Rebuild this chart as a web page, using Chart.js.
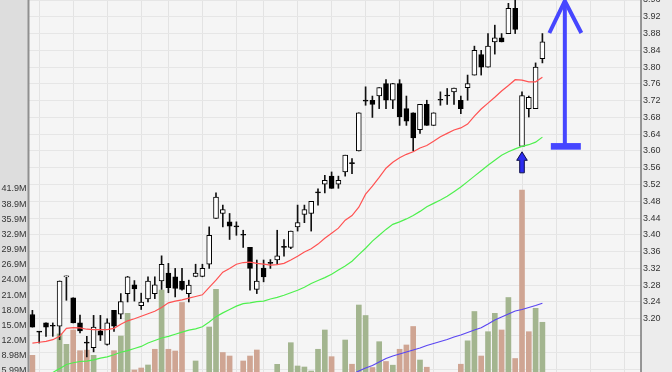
<!DOCTYPE html>
<html><head><meta charset="utf-8">
<script src="https://cdn.jsdelivr.net/npm/chart.js@4.4.1/dist/chart.umd.min.js"></script>
<style>html,body{margin:0;padding:0;background:#fff;overflow:hidden}canvas{display:block}</style>
</head><body>
<canvas id="c" width="672" height="372"></canvas>
<script>
// ---- data ----
const slotCount = 90; // trading-day slots on the x axis (76 with data, rest empty)
const days = Array.from({length: slotCount}, (_, i) => String(i + 1));
const weekStarts = [1,6,11,16,20,25,30,34,39,44,49,54,59,63,67,72,77,82,87];

const open  = [3.210,3.168,3.190,3.182,3.182,3.300,3.250,3.190,3.142,3.131,3.171,3.139,3.220,3.211,3.260,3.281,3.231,3.247,3.260,3.290,
               3.309,3.300,3.290,3.260,3.301,3.301,3.330,3.439,3.451,3.431,3.419,3.399,3.370,3.270,3.321,3.332,3.340,3.370,3.370,3.419,
               3.449,3.451,3.500,3.521,3.540,3.521,3.550,3.570,3.600,3.719,3.721,3.731,3.761,3.721,3.761,3.701,3.691,3.651,3.711,3.661,
               3.721,3.731,3.741,3.721,3.751,3.781,3.830,3.800,3.860,3.870,3.880,3.940,3.611,3.701,3.701,3.820];
const high  = [3.220,3.170,3.190,3.190,3.290,3.302,3.250,3.209,3.158,3.208,3.208,3.200,3.220,3.260,3.301,3.291,3.261,3.300,3.300,3.350,
               3.332,3.320,3.320,3.292,3.330,3.330,3.419,3.500,3.471,3.451,3.431,3.411,3.370,3.340,3.340,3.341,3.411,3.389,3.409,3.471,
               3.471,3.480,3.510,3.542,3.550,3.540,3.590,3.582,3.691,3.753,3.731,3.751,3.770,3.761,3.770,3.731,3.691,3.711,3.721,3.691,
               3.741,3.749,3.750,3.731,3.781,3.850,3.840,3.880,3.900,3.880,3.952,3.970,3.741,3.731,3.810,3.880];
const low   = [3.180,3.142,3.158,3.158,3.150,3.244,3.190,3.166,3.109,3.121,3.148,3.137,3.170,3.200,3.240,3.242,3.222,3.240,3.248,3.270,
               3.262,3.252,3.268,3.240,3.300,3.300,3.320,3.439,3.419,3.389,3.399,3.370,3.268,3.260,3.288,3.320,3.330,3.349,3.367,3.409,
               3.429,3.409,3.471,3.500,3.511,3.511,3.540,3.546,3.600,3.709,3.680,3.701,3.701,3.701,3.661,3.661,3.600,3.642,3.661,3.661,
               3.709,3.711,3.711,3.689,3.721,3.781,3.781,3.800,3.831,3.860,3.880,3.880,3.611,3.681,3.701,3.810];
const close = [3.180,3.168,3.180,3.182,3.290,3.301,3.190,3.171,3.142,3.180,3.161,3.190,3.182,3.241,3.300,3.271,3.240,3.290,3.281,3.330,
               3.274,3.272,3.270,3.280,3.309,3.320,3.399,3.490,3.460,3.421,3.419,3.399,3.320,3.290,3.300,3.332,3.350,3.370,3.409,3.429,
               3.460,3.480,3.500,3.530,3.511,3.530,3.590,3.570,3.691,3.719,3.711,3.751,3.721,3.761,3.681,3.671,3.631,3.711,3.661,3.691,
               3.721,3.731,3.750,3.701,3.761,3.840,3.800,3.850,3.870,3.860,3.940,3.890,3.732,3.728,3.800,3.860];
// volume in millions
const volume = [9.08,4.5,4.8,5.0,13.3,11.25,14.08,9.99,10.1,9.08,5.2,5.0,9.99,12.89,17.37,6.18,6.57,7.17,10.27,21.97,
                10.27,9.93,19.51,5.0,7.96,4.6,14.67,22.11,9.63,8.94,5.3,7.96,8.94,10.13,5.5,5.0,7.30,5.4,11.57,6.97,
                6.77,5.98,10.27,14.08,8.81,5.6,12.10,7.32,19.01,16.94,6.67,11.77,7.86,7.13,10.27,11.12,14.77,8.15,6.73,5.2,
                4.9,5.4,5.1,7.32,11.94,17.73,8.94,13.74,17.37,14.08,20.49,8.45,41.72,13.74,18.36,15.60];
const ma20 = [3.142,3.144,3.146,3.150,3.158,3.177,3.179,3.178,3.175,3.174,3.174,3.174,3.177,3.187,3.195,3.200,3.206,3.212,3.218,3.227,
              3.238,3.242,3.245,3.249,3.253,3.257,3.275,3.292,3.311,3.320,3.330,3.334,3.335,3.332,3.330,3.328,3.329,3.332,3.340,3.349,
              3.359,3.367,3.378,3.392,3.404,3.416,3.435,3.446,3.466,3.497,3.516,3.537,3.559,3.573,3.584,3.592,3.598,3.607,3.613,3.623,
              3.634,3.642,3.650,3.655,3.664,3.683,3.700,3.714,3.728,3.743,3.756,3.770,3.769,3.765,3.765,3.776];
const ma50 = [3.049,3.056,3.063,3.072,3.081,3.091,3.095,3.098,3.099,3.102,3.106,3.109,3.114,3.120,3.124,3.129,3.134,3.142,3.148,3.154,
              3.158,3.163,3.168,3.173,3.176,3.181,3.192,3.205,3.214,3.222,3.230,3.236,3.238,3.241,3.242,3.247,3.251,3.256,3.262,3.268,
              3.275,3.284,3.291,3.298,3.306,3.316,3.326,3.337,3.353,3.368,3.385,3.399,3.413,3.425,3.431,3.438,3.446,3.456,3.467,3.475,
              3.483,3.492,3.503,3.514,3.527,3.540,3.553,3.566,3.578,3.590,3.598,3.605,3.611,3.615,3.621,3.633];
const volMa = [null,null,null,null,null,null,null,null,null,null,null,null,null,null,null,null,null,null,null,null,
               null,null,null,null,null,null,null,null,null,null,null,null,null,null,null,null,null,null,null,null,
               null,null,null,null,null,null,null,5.29,5.98,6.57,7.07,7.76,8.45,8.94,9.34,9.73,10.13,10.52,11.02,11.41,
               11.81,12.20,12.69,13.09,13.58,14.08,14.53,15.26,16.05,16.64,17.24,17.83,18.12,18.52,18.91,19.35];

const priceTicks = [3.08,3.12,3.16,3.20,3.24,3.28,3.32,3.36,3.40,3.44,3.48,3.52,3.56,3.60,3.64,3.68,3.72,3.76,3.80,3.84,3.88,3.92,3.96];
const priceTickLabels = ['','','','3.20','3.24','3.28','3.32','3.36','3.40','3.44','3.48','3.52','3.56','3.60','3.64','3.68','3.72','3.76','3.80','3.84','3.88','3.92','3.96'];
const volTicks = [5.99,8.98,11.98,14.97,17.96,20.96,23.95,26.94,29.94,32.93,35.93,38.92,41.92];
const volTickLabels = ['5.99M','8.98M','12.0M','15.0M','18.0M','21.0M','24.0M','26.9M','29.9M','32.9M','35.9M','38.9M','41.9M'];

// annotations (data positions)
const bounceIndex = 72;          // candle the small arrow points at
const bounceTipPrice = 3.598;     // tip of the small arrow
const targetArrow = {index: 78.3, from: 3.611, to: 3.96};

// ---- derived ----
const wicks = low.map((l, i) => [l, high[i]]);
const bodies = open.map((o, i) => [o, close[i]]);
const isUpCandle = open.map((o, i) => close[i] > o);
const isUpVol = close.map((c, i) => i > 0 && c >= close[i - 1]);

Chart.defaults.font.family = "'Liberation Sans', Arial, sans-serif";
Chart.defaults.font.size = 9;
Chart.defaults.color = '#333';

const bgPlugin = {
  id: 'bg',
  beforeDraw(chart) {
    const {ctx, chartArea: a, width, height} = chart;
    ctx.save();
    ctx.fillStyle = '#dddddd'; ctx.fillRect(0, 0, a.left, height);
    ctx.fillStyle = '#ececec'; ctx.fillRect(a.right, 0, width - a.right, height);
    ctx.fillStyle = '#f5f5f5'; ctx.fillRect(a.left, 0, a.right - a.left, height);
    ctx.restore();
  },
  afterDraw(chart) {
    const {ctx, chartArea: a, height} = chart;
    ctx.save();
    ctx.strokeStyle = '#8f8f8f'; ctx.lineWidth = 2;
    ctx.beginPath(); ctx.moveTo(a.left - 0.5, 0); ctx.lineTo(a.left - 0.5, height); ctx.stroke();
    ctx.strokeStyle = '#777'; ctx.lineWidth = 1.5;
    ctx.beginPath(); ctx.moveTo(a.right, 0); ctx.lineTo(a.right, height); ctx.stroke();
    ctx.restore();
  }
};

const arrowPlugin = {
  id: 'arrows',
  afterDatasetsDraw(chart) {
    const {ctx} = chart;
    const xs = chart.scales.x, ys = chart.scales.y;
    ctx.save();
    // big target arrow
    const x = xs.getPixelForValue(targetArrow.index);
    const yTop = ys.getPixelForValue(targetArrow.to) + 1;
    const yBase = ys.getPixelForValue(targetArrow.from);
    ctx.strokeStyle = '#4646ff'; ctx.fillStyle = '#4646ff';
    ctx.lineWidth = 4; ctx.lineJoin = 'miter'; ctx.lineCap = 'butt';
    ctx.beginPath(); ctx.moveTo(x, yBase); ctx.lineTo(x, yTop); ctx.stroke();
    ctx.beginPath(); ctx.moveTo(x - 15.5, yTop + 32); ctx.lineTo(x, yTop); ctx.lineTo(x + 16.5, yTop + 32); ctx.stroke();
    ctx.fillRect(x - 14, yBase - 3.3, 30, 6.6);
    // small bounce arrow
    const sx = xs.getPixelForValue(bounceIndex);
    const ty = ys.getPixelForValue(bounceTipPrice);
    ctx.beginPath();
    ctx.moveTo(sx, ty);
    ctx.lineTo(sx + 5.3, ty + 8.5);
    ctx.lineTo(sx + 2.3, ty + 8.5);
    ctx.lineTo(sx + 2.3, ty + 21);
    ctx.lineTo(sx - 2.3, ty + 21);
    ctx.lineTo(sx - 2.3, ty + 8.5);
    ctx.lineTo(sx - 5.3, ty + 8.5);
    ctx.closePath();
    ctx.fillStyle = '#2c2cf0'; ctx.fill();
    ctx.strokeStyle = '#10104a'; ctx.lineWidth = 1; ctx.stroke();
    ctx.restore();
  }
};

new Chart(document.getElementById('c'), {
  type: 'bar',
  data: {
    labels: days,
    datasets: [
      {type: 'line', label: 'MA20', data: ma20, yAxisID: 'y', borderColor: '#ff5252', borderWidth: 1.2, pointRadius: 0, tension: 0, order: 1},
      {type: 'line', label: 'MA50', data: ma50, yAxisID: 'y', borderColor: '#4ef04e', borderWidth: 1.2, pointRadius: 0, tension: 0, order: 2},
      {label: 'body', data: bodies, yAxisID: 'y', grouped: false, barThickness: 5, minBarLength: 1,
       backgroundColor: isUpCandle.map(u => u ? '#ffffff' : '#000000'), borderColor: '#000', borderWidth: 1, borderSkipped: false, order: 3},
      {label: 'wick', data: wicks, yAxisID: 'y', grouped: false, barThickness: 1,
       backgroundColor: '#111', borderWidth: 0, order: 4},
      {type: 'line', label: 'VolMA', data: volMa, yAxisID: 'v', borderColor: '#5a46f2', borderWidth: 1.2, pointRadius: 0, tension: 0, order: 9},
      {label: 'Volume', data: volume, yAxisID: 'v', grouped: false, barThickness: 5,
       backgroundColor: isUpVol.map(u => u ? '#a3b58f' : '#cfa593'), borderWidth: 0, order: 10}
    ]
  },
  options: {
    responsive: false,
    animation: false,
    events: [],
    layout: {padding: 0},
    plugins: {legend: {display: false}, tooltip: {enabled: false}},
    scales: {
      x: {
        type: 'category', offset: true,
        grid: {offset: false, drawTicks: false, lineWidth: 1,
               color: c => weekStarts.includes(c.index) ? '#e3e3e3' : 'rgba(0,0,0,0)'},
        ticks: {display: false, autoSkip: false},
        border: {display: false},
        afterFit: s => { s.height = 0; s.paddingLeft = 0; s.paddingRight = 0; }
      },
      y: {
        position: 'right', min: 3.073, max: 3.96,
        grid: {color: '#e6e6e6', drawTicks: false, lineWidth: 1},
        border: {display: false},
        ticks: {padding: 2, color: '#333', font: {size: 9},
                callback: (v, i) => priceTickLabels[i]},
        afterBuildTicks: s => { s.ticks = priceTicks.map(v => ({value: v})); },
        afterFit: s => { s.width = 31; s.paddingTop = 0; s.paddingBottom = 0; }
      },
      v: {
        position: 'left', min: 5.785, max: 79.23,
        grid: {display: false, drawTicks: false},
        border: {display: false},
        ticks: {padding: 2.5, color: '#333', font: {size: 9},
                callback: (v, i) => volTickLabels[i]},
        afterBuildTicks: s => { s.ticks = volTicks.map(v => ({value: v})); },
        afterFit: s => { s.width = 29; s.paddingTop = 0; s.paddingBottom = 0; }
      }
    }
  },
  plugins: [bgPlugin, arrowPlugin]
});
</script>
</body></html>
